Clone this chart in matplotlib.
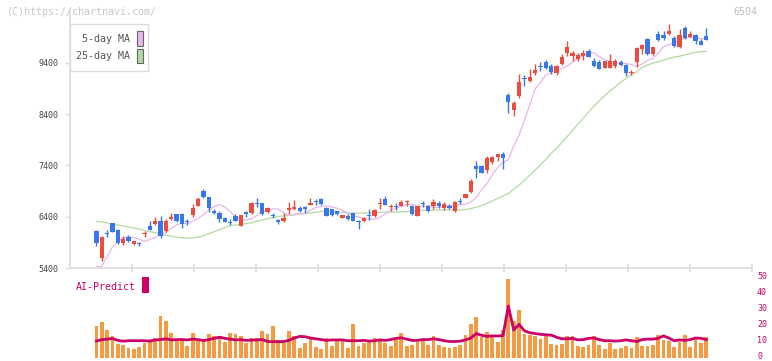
import matplotlib
matplotlib.use("Agg")
import matplotlib.pyplot as plt
from matplotlib.patches import Rectangle
import matplotlib.transforms as mtransforms
import numpy as np
import pandas as pd

# ---- data ----
opens = [6120, 5600, 6090, 6270, 6140, 5890, 6000, 5870, 5880, 6060,
         6220, 6260, 6320, 6120, 6350, 6450, 6450, 6300, 6430, 6610,
         6900, 6780, 6510, 6480, 6380, 6290, 6410, 6220, 6500, 6470,
         6670, 6660, 6500, 6430, 6340, 6320, 6540, 6550, 6580, 6580,
         6630, 6700, 6750, 6580, 6550, 6510, 6380, 6420, 6470, 6320,
         6320, 6420, 6410, 6640, 6750, 6590, 6610, 6610, 6680, 6610,
         6420, 6660, 6610, 6600, 6660, 6570, 6600, 6510, 6700, 6770,
         6880, 7390, 7390, 7310, 7470, 7560, 7620, 8780, 8490, 8760,
         9090, 9050, 9210, 9330, 9410, 9340, 9210, 9380, 9600, 9540,
         9470, 9540, 9630, 9440, 9410, 9310, 9310, 9350, 9410, 9370,
         9210, 9410, 9670, 9860, 9570, 9970, 9950, 9970, 9880, 9720,
         10080, 9910, 9950, 9830, 9930]
highs = [6140, 6020, 6150, 6280, 6170, 6020, 6040, 5930, 5910, 6130,
         6310, 6400, 6410, 6360, 6480, 6460, 6470, 6350, 6650, 6790,
         6940, 6790, 6560, 6510, 6400, 6360, 6450, 6440, 6510, 6680,
         6760, 6670, 6590, 6480, 6360, 6470, 6690, 6730, 6610, 6600,
         6770, 6750, 6760, 6590, 6560, 6520, 6440, 6450, 6480, 6340,
         6390, 6550, 6550, 6760, 6800, 6650, 6670, 6730, 6730, 6620,
         6610, 6700, 6620, 6740, 6700, 6680, 6650, 6700, 6770, 6850,
         7140, 7490, 7410, 7590, 7590, 7630, 7660, 8810, 8650, 9190,
         9170, 9280, 9380, 9410, 9450, 9380, 9360, 9580, 9820, 9640,
         9600, 9650, 9670, 9490, 9450, 9440, 9580, 9470, 9450, 9390,
         9260, 9720, 9780, 9880, 9710, 10030, 10030, 10160, 9930, 10060,
         10120, 10020, 9960, 9860, 10080]
lows = [5830, 5540, 6000, 6100, 5860, 5840, 5910, 5840, 5820, 6010,
        6140, 6240, 5990, 6100, 6330, 6300, 6190, 6240, 6400, 6600,
        6760, 6500, 6450, 6290, 6290, 6230, 6320, 6210, 6400, 6460,
        6590, 6440, 6480, 6380, 6260, 6300, 6450, 6540, 6500, 6480,
        6620, 6630, 6630, 6410, 6420, 6440, 6370, 6340, 6310, 6160,
        6300, 6340, 6400, 6560, 6620, 6510, 6530, 6600, 6600, 6430,
        6410, 6590, 6500, 6560, 6580, 6530, 6560, 6490, 6650, 6760,
        6860, 7160, 7250, 7260, 7420, 7490, 7340, 8430, 8370, 8710,
        8960, 9020, 9170, 9240, 9290, 9190, 9160, 9360, 9540, 9430,
        9430, 9450, 9510, 9330, 9280, 9300, 9300, 9300, 9350, 9150,
        9170, 9320, 9570, 9560, 9560, 9830, 9850, 9950, 9720, 9690,
        9870, 9900, 9770, 9750, 9840]
closes = [5890, 6000, 6060, 6110, 5890, 5970, 5930, 5930, 5870, 6090,
          6140, 6320, 6020, 6320, 6400, 6320, 6250, 6290, 6580, 6750,
          6790, 6580, 6480, 6350, 6300, 6280, 6320, 6430, 6450, 6660,
          6640, 6450, 6580, 6420, 6290, 6380, 6580, 6590, 6510, 6560,
          6660, 6680, 6640, 6420, 6430, 6450, 6430, 6350, 6320, 6300,
          6380, 6410, 6530, 6660, 6630, 6610, 6590, 6680, 6700, 6450,
          6600, 6650, 6520, 6680, 6600, 6650, 6580, 6690, 6690, 6840,
          7100, 7330, 7260, 7550, 7570, 7620, 7550, 8630, 8610, 9020,
          9080, 9130, 9260, 9320, 9300, 9220, 9340, 9520, 9720, 9590,
          9560, 9600, 9520, 9350, 9290, 9430, 9440, 9430, 9360, 9200,
          9220, 9700, 9760, 9570, 9710, 9850, 9880, 10020, 9730, 9950,
          9890, 9970, 9820, 9750, 9850]

# moving averages at the left edge (history before the first candle)
ma5_head = [5425, 5430, 5620, 5810, 5910]
ma25_head = [6310, 6300, 6280, 6260, 6240, 6220, 6200, 6180, 6160, 6130,
             6110, 6090, 6060, 6040, 6020, 6000, 5990, 5980, 5990, 6000,
             6030, 6070, 6110, 6150, 6190]

volume = [20.0, 22.7, 17.5, 13.8, 8.8, 8.1, 6.5, 5.6, 7.1, 9.2,
          11.3, 12.7, 26.3, 23.1, 15.8, 11.3, 11.9, 7.5, 15.8, 10.8,
          11.3, 15.2, 13.8, 13.3, 10.2, 15.8, 15.2, 13.8, 9.6, 12.3,
          12.3, 16.9, 15.0, 20.0, 11.3, 9.6, 16.9, 13.8, 6.5, 9.6,
          12.7, 7.1, 5.6, 12.3, 7.5, 10.8, 10.8, 6.5, 21.3, 7.5,
          9.2, 11.3, 12.3, 10.5, 9.4, 7.8, 11.8, 15.8, 7.5, 8.1,
          10.2, 10.8, 8.1, 13.8, 8.1, 6.7, 6.0, 6.7, 8.1, 14.4,
          21.3, 25.8, 12.9, 16.5, 12.9, 10.2, 17.5, 49.4, 23.1, 30.0,
          15.0, 14.4, 13.8, 11.9, 13.8, 8.8, 8.1, 8.8, 13.8, 13.8,
          7.5, 6.7, 8.1, 13.8, 8.1, 5.6, 9.6, 5.6, 6.0, 7.5,
          6.5, 12.9, 7.5, 7.7, 8.1, 14.4, 11.3, 10.6, 6.7, 10.2,
          14.4, 6.7, 12.3, 9.2, 12.9]
ai_predict = [10.6, 11.5, 11.8, 12.2, 11.0, 10.5, 10.8, 10.8, 10.8, 10.8,
              10.6, 11.3, 11.5, 12.0, 11.3, 11.5, 11.5, 11.3, 11.8, 11.5,
              10.9, 11.5, 12.3, 13.0, 12.3, 11.8, 11.3, 11.5, 11.0, 11.2,
              11.3, 11.5, 10.3, 10.2, 10.2, 10.3, 11.0, 12.5, 13.5, 13.3,
              12.5, 12.0, 11.5, 11.0, 11.3, 11.3, 11.3, 10.8, 10.8, 10.8,
              11.0, 10.6, 10.8, 11.3, 11.0, 11.5, 12.3, 12.6, 11.8, 11.0,
              11.0, 11.5, 11.5, 12.0, 11.5, 10.8, 10.3, 10.3, 10.5, 11.3,
              12.5, 15.3, 14.2, 13.5, 13.8, 13.8, 14.0, 32.5, 17.5, 21.0,
              17.0, 15.8, 15.3, 14.8, 14.5, 14.3, 13.0, 12.0, 12.0, 12.3,
              11.3, 11.5, 12.3, 12.5, 11.5, 10.8, 10.8, 10.6, 10.8, 11.3,
              10.8, 10.3, 11.5, 11.8, 11.8, 12.3, 13.8, 12.5, 10.8, 11.3,
              11.0, 11.5, 12.5, 12.3, 11.5]

date_labels = ["5/1", "5/19", "6/2", "6/16", "6/30", "7/14",
               "7/29", "8/13", "8/27", "9/10", "9/26"]
date_index = [14, 24, 34, 44, 54, 64, 74, 84, 94, 104, 114]
price_ticks = [5400, 6400, 7400, 8400, 9400]
ai_ticks = [0, 10, 20, 30, 40, 50]

# ---- styling ----
W, H = 772, 361
MONO = "DejaVu Sans Mono"
UP = "#eb4c3c"
DOWN = "#3a77e6"
MA5_C = "#ebb5eb"
MA25_C = "#b3d9a3"
VOL_C = "#f39a42"
AI_C = "#cc0066"
AXIS_C = "#dddddd"

x = np.arange(len(closes))
o = np.array(opens)
c = np.array(closes)
s = pd.Series(closes, dtype=float)
ma5 = s.rolling(5).mean().shift(1).to_numpy()
ma5[:len(ma5_head)] = ma5_head
ma25 = s.rolling(25).mean().shift(1).to_numpy()
ma25[:len(ma25_head)] = ma25_head


def fx(px):
    return px / W


def fy(py):
    return 1 - py / H


fig = plt.figure(figsize=(W / 100, H / 100), dpi=100)

# main price panel
ax = fig.add_axes([fx(70), fy(268), (752 - 70) / W, (268 - 10) / H])
ax.set_xlim(-4.93, 122.54)
ax.set_ylim(5400, 5400 + 258 * 19.512)

ax.plot(x, ma25, color=MA25_C, lw=0.9, zorder=1)
ax.plot(x, ma5, color=MA5_C, lw=0.9, zorder=1)

colors = np.where(c >= o, UP, DOWN)
ax.vlines(x, lows, highs, colors=colors, lw=1.0, zorder=2)
body_h = np.maximum(np.abs(c - o), 22)
ax.bar(x, body_h, bottom=np.minimum(o, c), width=0.8, color=colors,
       linewidth=0, zorder=3)

for sp in ["top", "right"]:
    ax.spines[sp].set_visible(False)
for sp in ["left", "bottom"]:
    ax.spines[sp].set_color(AXIS_C)
    ax.spines[sp].set_linewidth(1.3)

ax.set_yticks(price_ticks)
ax.set_yticklabels([str(v) for v in price_ticks], family=MONO, fontsize=6,
                   color="#444444")
ax.tick_params(axis="y", length=3.6, width=1, color=AXIS_C, pad=4.5)

lo, hi = ax.get_xlim()
ax.set_xticks([lo + (hi - lo) * k / 11 for k in range(1, 12)])
ax.set_xticklabels([])
ax.tick_params(axis="x", direction="inout", length=6, width=1.3, color=AXIS_C)

trans = mtransforms.blended_transform_factory(ax.transData, ax.transAxes)
for i, lab in zip(date_index, date_labels):
    ax.text(i, -15 / 258, lab, transform=trans, ha="center", va="center",
            family=MONO, fontsize=6, color="#555555")

# volume / AI-Predict panel
ax2 = fig.add_axes([fx(70), fy(358), (752 - 70) / W, (358 - 272) / H])
ax2.set_xlim(lo, hi)
ax2.set_ylim(0, 86 / 1.6)
ax2.bar(x, volume, width=0.7, color=VOL_C, linewidth=0, zorder=1)
ax2.plot(x, ai_predict, color=AI_C, lw=2.0, zorder=2)
for sp in ax2.spines.values():
    sp.set_visible(False)
ax2.set_xticks([])
ax2.yaxis.tick_right()
ax2.set_yticks(ai_ticks)
ax2.set_yticklabels([str(v) for v in ai_ticks], family=MONO, fontsize=6,
                    color=AI_C)
ax2.tick_params(axis="y", length=0, pad=3.6)
lift = mtransforms.ScaledTranslation(0, 2.5 / 100, fig.dpi_scale_trans)
for lab in ax2.get_yticklabels():
    lab.set_transform(lab.get_transform() + lift)

# legend box
fig.add_artist(Rectangle((fx(70), fy(71)), (148 - 70) / W, (71 - 24) / H,
                         transform=fig.transFigure, facecolor="white",
                         edgecolor=AXIS_C, lw=1.0, zorder=5))
for label, col, ty in [("5-day MA", MA5_C, 38.5), ("25-day MA", MA25_C, 56)]:
    fig.text(fx(130), fy(ty), label, ha="right", va="center", family=MONO,
             fontsize=7.2, color="#555555", zorder=6)
    fig.add_artist(Rectangle((fx(136.7), fy(ty + 7)), 6 / W, 14.5 / H,
                             transform=fig.transFigure, facecolor=col,
                             edgecolor="#666666", lw=0.8, zorder=6))

# AI-Predict label
fig.text(fx(75.5), fy(286.5), "AI-Predict", ha="left", va="center",
         family=MONO, fontsize=7.2, color=AI_C)
fig.add_artist(Rectangle((fx(142.3), fy(292.7)), 6.4 / W, 15.4 / H,
                         transform=fig.transFigure, facecolor=AI_C,
                         edgecolor="none"))

# watermark and code
fig.text(fx(7), fy(12), "(C)https://chartnavi.com/", ha="left", va="center",
         family=MONO, fontsize=7.2, color="#c8c8c8")
fig.text(fx(757), fy(12), "6504", ha="right", va="center",
         family=MONO, fontsize=7.2, color="#c0c0c0")

fig.savefig("out.png", dpi=100)
